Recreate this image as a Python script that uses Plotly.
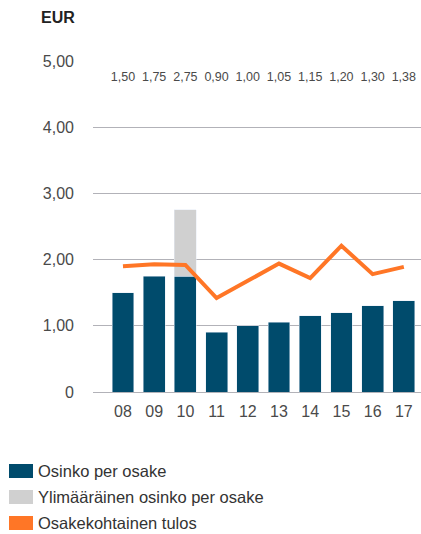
import plotly.graph_objects as go

years = ["08", "09", "10", "11", "12", "13", "14", "15", "16", "17"]
dividend = [1.50, 1.75, 1.75, 0.90, 1.00, 1.05, 1.15, 1.20, 1.30, 1.38]
extra_dividend = [None, None, 1.00, None, None, None, None, None, None, None]
eps = [1.90, 1.93, 1.92, 1.42, 1.68, 1.94, 1.72, 2.21, 1.78, 1.89]
total_labels = ["1,50", "1,75", "2,75", "0,90", "1,00", "1,05", "1,15", "1,20", "1,30", "1,38"]
label_level = [4.74] * len(years)
y_ticks = [0, 1, 2, 3, 4, 5]
y_ticktext = ["0", "1,00", "2,00", "3,00", "4,00", "5,00"]

legend_names = ["Osinko per osake", "Ylimääräinen osinko per osake", "Osakekohtainen tulos"]

C_BLUE = "#004B6C"
C_GREY = "#D0D0D0"
C_ORANGE = "#FF7626"
FONT = "Liberation Sans"

x = list(range(len(years)))

fig = go.Figure()
fig.add_trace(go.Bar(x=x, y=dividend, marker_color=C_BLUE, width=0.7,
                     name=legend_names[0], showlegend=False))
fig.add_trace(go.Bar(x=x, y=extra_dividend, marker_color=C_GREY, width=0.7,
                     name=legend_names[1], showlegend=False))
fig.add_trace(go.Scatter(x=x, y=eps, mode="lines", line=dict(color=C_ORANGE, width=4),
                         name=legend_names[2], showlegend=False))
fig.add_trace(go.Scatter(x=x, y=label_level, mode="text", text=total_labels,
                         textfont=dict(size=12.5, color="#4a4a4a", family=FONT),
                         showlegend=False, hoverinfo="skip"))

fig.update_layout(
    width=421, height=534,
    margin=dict(l=93, r=0, t=61, b=142),
    barmode="stack",
    plot_bgcolor="white", paper_bgcolor="white",
    font=dict(family=FONT, color="#444", size=16),
    xaxis=dict(range=[-0.96, 9.55], tickvals=x, ticktext=years, showgrid=False,
               zeroline=False, showline=False, ticks="", ticklabelstandoff=8,
               tickfont=dict(size=16, color="#4a4a4a")),
    yaxis=dict(range=[0, 5], tickvals=y_ticks, ticktext=y_ticktext, showgrid=True,
               gridcolor="#B2B2B8", gridwidth=1.3, zeroline=True, zerolinecolor="#B2B2B8",
               zerolinewidth=1.3, ticks="", ticklabelstandoff=18,
               tickfont=dict(size=16, color="#4a4a4a")),
)

fig.add_annotation(text="<b>EUR</b>", xref="paper", yref="paper",
                   x=(39 - 93) / 328, y=(392 - 17) / 331, xanchor="left", yanchor="middle",
                   showarrow=False, font=dict(size=16, color="#222", family=FONT))

# manual legend
rows = [471, 497, 523]
colors = [C_BLUE, C_GREY, C_ORANGE]
for py, col, name in zip(rows, colors, legend_names):
    fig.add_shape(type="rect", xref="paper", yref="paper",
                  x0=(9 - 93) / 328, x1=(33 - 93) / 328,
                  y0=(392 - (py - 7)) / 331, y1=(392 - (py + 7)) / 331,
                  fillcolor=col, line=dict(width=0))
    fig.add_annotation(text=name, xref="paper", yref="paper",
                       x=(36 - 93) / 328, y=(392 - py) / 331, xanchor="left", yanchor="middle",
                       showarrow=False, font=dict(size=16.5, color="#333", family=FONT))

fig.write_html("out.html", config={"displayModeBar": False},
               post_script="document.body.style.margin='0';")
